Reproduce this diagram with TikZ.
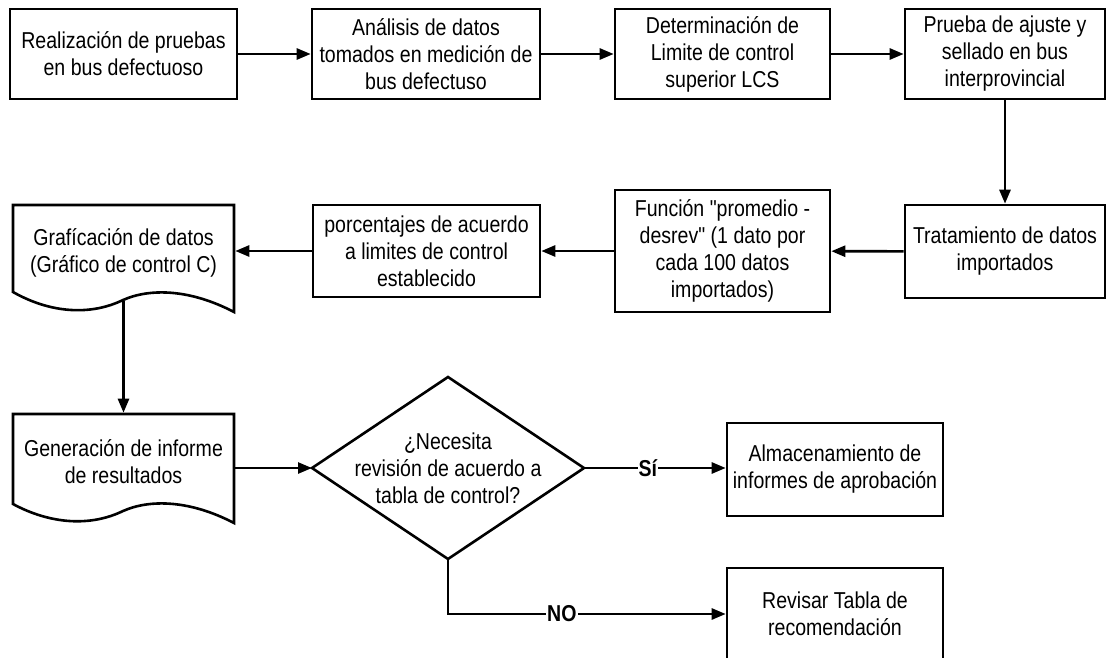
\documentclass[tikz,border=0pt]{standalone}
\usepackage{fontspec}
\setmainfont{Liberation Sans}[FakeStretch=0.85,Ligatures=TeXOff]
\usetikzlibrary{arrows.meta}
\begin{document}
\begin{tikzpicture}[x=1pt,y=-1pt,
  line width=2.6pt,
  txt/.style={font=\fontsize{23}{27}\selectfont, align=center, inner sep=0pt},
  procbox/.style={txt, draw, rectangle},
  plain/.style={txt},
  flow/.style={-{Triangle[length=14pt,width=11pt]}},
  lbl/.style={font=\fontsize{23}{27}\selectfont\bfseries, fill=white, inner sep=1pt}
]
\useasboundingbox (0,0) rectangle (1118,657);

% top row
\node[procbox, minimum width=227pt, minimum height=90pt] (b1) at (123.5,54) {Realización de pruebas\\en bus defectuoso};
\node[procbox, minimum width=228pt, minimum height=90pt] (b2) at (426,54) {Análisis de datos\\tomados en medición de\\bus defectuso};
\node[procbox, minimum width=215pt, minimum height=90pt] (b3) at (722.5,54) {Determinación de\\Limite de control\\superior LCS};
\node[procbox, minimum width=200pt, minimum height=90pt] (b4) at (1005,54) {Prueba de ajuste y\\sellado en bus\\interprovincial};

% second row
\node[procbox, minimum width=200pt, minimum height=93pt] (b5) at (1005,251.5) {Tratamiento de datos\\importados};
\node[procbox, minimum width=215pt, minimum height=122pt] (b6) at (722.5,251) {Función "promedio -\\desrev" (1 dato por\\cada 100 datos\\importados)};
\node[procbox, minimum width=227pt, minimum height=92pt] (b7) at (426.5,251) {porcentajes de acuerdo\\a limites de control\\establecido};

% document shapes (text nodes; outlines drawn below)
\node[plain, minimum width=221pt, minimum height=95pt] (d1) at (123.5,252.5) {Grafícación de datos\\(Gráfico de control C)};
\node[plain, minimum width=221pt, minimum height=95pt] (d2) at (123.5,461.5) {Generación de informe\\de resultados};

\draw (13,292) -- (13,205) -- (234,205) -- (234,312)
  .. controls (190,289) and (150,288) .. (123,300)
  .. controls (90,316) and (50,313) .. (13,292) -- cycle;
\draw (13,504) -- (13,414) -- (234,414) -- (234,523)
  .. controls (190,500) and (150,499) .. (123,511)
  .. controls (90,527) and (50,524) .. (13,504) -- cycle;

% decision
\coordinate (dW) at (312,468);
\coordinate (dE) at (584,468);
\coordinate (dN) at (448,377);
\coordinate (dS) at (448,559);
\draw (dW) -- (dN) -- (dE) -- (dS) -- cycle;
\node[plain] (dq) at (448,468) {¿Necesita\\revisión de acuerdo a\\tabla de control?};

% outcomes
\node[procbox, minimum width=216pt, minimum height=93pt] (b8) at (835,469.5) {Almacenamiento de\\informes de aprobación};
\node[procbox, minimum width=216pt, minimum height=92pt] (b9) at (835,614) {Revisar Tabla de\\recomendación};

% connectors
\draw[flow] (b1) -- (b2);
\draw[flow] (b2) -- (b3);
\draw[flow] (b3) -- (b4);
\draw[flow] (b4) -- (b5);
\draw[flow] (b5) -- (b6);
\draw[flow] (b6) -- (b7);
\draw[flow] (b7.west) -- (b7.west -| d1.east);
\draw[flow] (d1.south) -- (d2.north);
\draw[flow] (d2.east |- dW) -- (dW);
\draw[flow] (dE) -- node[lbl, pos=0.45] {Sí} (dE -| b8.west);
\draw[flow] (dS) -- (dS |- b9.west) -- node[lbl, pos=0.41] {NO} (b9.west);
\end{tikzpicture}
\end{document}
